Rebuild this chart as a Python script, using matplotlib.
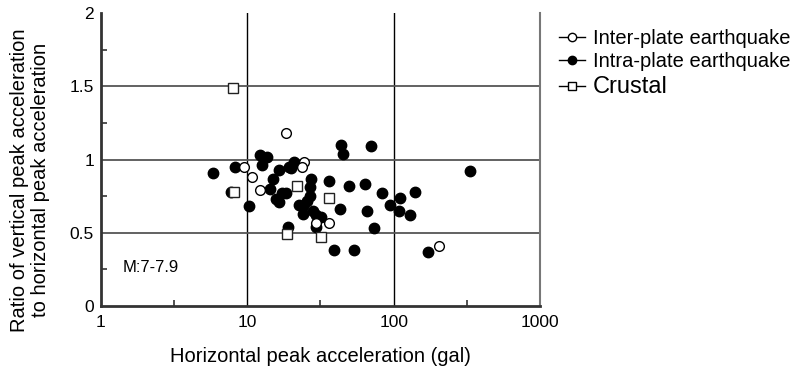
import matplotlib
matplotlib.use("Agg")
import matplotlib.pyplot as plt
from matplotlib.lines import Line2D
from matplotlib.ticker import FixedLocator, NullFormatter

plt.rcParams['font.family'] = ['Liberation Sans', 'DejaVu Sans']

# Inter-plate earthquakes (open circles)
inter_x = [9.5, 10.8, 12.2, 18.3, 24.3, 23.8, 29.6, 36.1, 203]
inter_y = [0.95, 0.88, 0.79, 1.18, 0.98, 0.95, 0.57, 0.57, 0.41]

# Intra-plate earthquakes (filled circles)
intra_x = [5.8, 8.3, 12.2, 13.6, 12.6, 16.4, 15.1, 14.3, 10.3, 15.8,
           16.5, 17.3, 18.5, 19.2, 20.9, 20.0, 27.3, 27.0, 26.7, 25.6,
           22.6, 24.0, 23.9, 27.9, 29.6, 31.8, 29.6, 19.0, 43.8, 44.8,
           69.6, 36.1, 49.3, 63.7, 43.1, 65.9, 83.4, 94.6, 110, 73.2,
           38.9, 53.4, 139, 108, 129, 171, 330, 7.7]
intra_y = [0.91, 0.95, 1.03, 1.02, 0.96, 0.93, 0.87, 0.80, 0.68, 0.73,
           0.71, 0.77, 0.77, 0.95, 0.98, 0.94, 0.87, 0.81, 0.75, 0.72,
           0.69, 0.68, 0.63, 0.65, 0.62, 0.61, 0.54, 0.54, 1.10, 1.04,
           1.09, 0.85, 0.82, 0.83, 0.66, 0.65, 0.77, 0.69, 0.74, 0.53,
           0.38, 0.38, 0.78, 0.65, 0.62, 0.37, 0.92, 0.78]

# Crustal earthquakes (open squares)
crustal_x = [8.0, 8.1, 22.0, 36.1, 18.8, 31.7]
crustal_y = [1.49, 0.78, 0.82, 0.74, 0.49, 0.47]

x_ticks = [1, 10, 100, 1000]
y_ticks = [0, 0.5, 1, 1.5, 2]
y_ticklabels = ['0', '0.5', '1', '1.5', '2']

fig = plt.figure(figsize=(7.97, 3.74), dpi=100)
ax = fig.add_axes([0.1267, 0.1818, 0.5508, 0.7834])
ax.set_xscale('log')
ax.set_xlim(1, 1000)
ax.set_ylim(0, 2)

# grid lines at the inner decades / half units
for v in x_ticks[1:-1]:
    ax.axvline(v, color='black', lw=1.0, zorder=1)
for v in y_ticks[1:-1]:
    ax.axhline(v, color='#555555', lw=1.3, zorder=1)

ax.plot(intra_x, intra_y, 'o', ms=7.5, mfc='black', mec='black', zorder=3)
ax.plot(inter_x, inter_y, 'o', ms=7.0, mfc='white', mec='black', mew=1.0, zorder=4)
ax.plot(crustal_x, crustal_y, 's', ms=7.0, mfc='white', mec='#222222', mew=1.0, zorder=5)

ax.xaxis.set_major_locator(FixedLocator(x_ticks))
ax.set_xticklabels([str(t) for t in x_ticks])
ax.xaxis.set_minor_locator(FixedLocator([10 ** 0.5, 10 ** 1.5, 10 ** 2.5]))
ax.xaxis.set_minor_formatter(NullFormatter())
ax.yaxis.set_major_locator(FixedLocator(y_ticks))
ax.set_yticklabels(y_ticklabels)
ax.yaxis.set_minor_locator(FixedLocator([0.25, 0.75, 1.25, 1.75]))

ax.tick_params(which='both', direction='in', labelsize=12.5, color='#333333')
ax.tick_params(which='major', length=0)
ax.tick_params(axis='x', which='major', pad=6.5)
ax.tick_params(axis='y', which='major', pad=5)
ax.tick_params(which='minor', length=4, width=1.2)

for s in ['left', 'bottom']:
    ax.spines[s].set_linewidth(2.0)
    ax.spines[s].set_color('#333333')
ax.spines['right'].set_linewidth(1.5)
ax.spines['right'].set_color('#777777')
ax.spines['top'].set_visible(False)

ax.text(1.4, 0.26, 'M:7-7.9', fontsize=12, va='center', ha='left')

fig.text(320 / 797, 1 - 356 / 374, 'Horizontal peak acceleration (gal)',
         fontsize=14.5, ha='center', va='center')
fig.text(30 / 797, 1 - 180 / 374,
         'Ratio of vertical peak acceleration\nto horizontal peak acceleration',
         fontsize=14.5, rotation=90, ha='center', va='center',
         multialignment='center', linespacing=1.15)

handles = [
    Line2D([], [], color='black', lw=1, marker='o', ms=6, mfc='white', mec='black'),
    Line2D([], [], color='black', lw=1, marker='o', ms=6, mfc='black', mec='black'),
    Line2D([], [], color='black', lw=1, marker='s', ms=5.5, mfc='white', mec='black'),
]
labels = ['Inter-plate earthquake', 'Intra-plate earthquake', 'Crustal']
leg = fig.legend(handles, labels, loc='upper left',
                 bbox_to_anchor=(559 / 797, 1 - 29 / 374),
                 frameon=False, fontsize=14.5, handlelength=1.3,
                 handletextpad=0.4, labelspacing=0.22, borderpad=0,
                 borderaxespad=0)
leg.get_texts()[2].set_fontsize(17)

fig.savefig('out.png', dpi=100)
